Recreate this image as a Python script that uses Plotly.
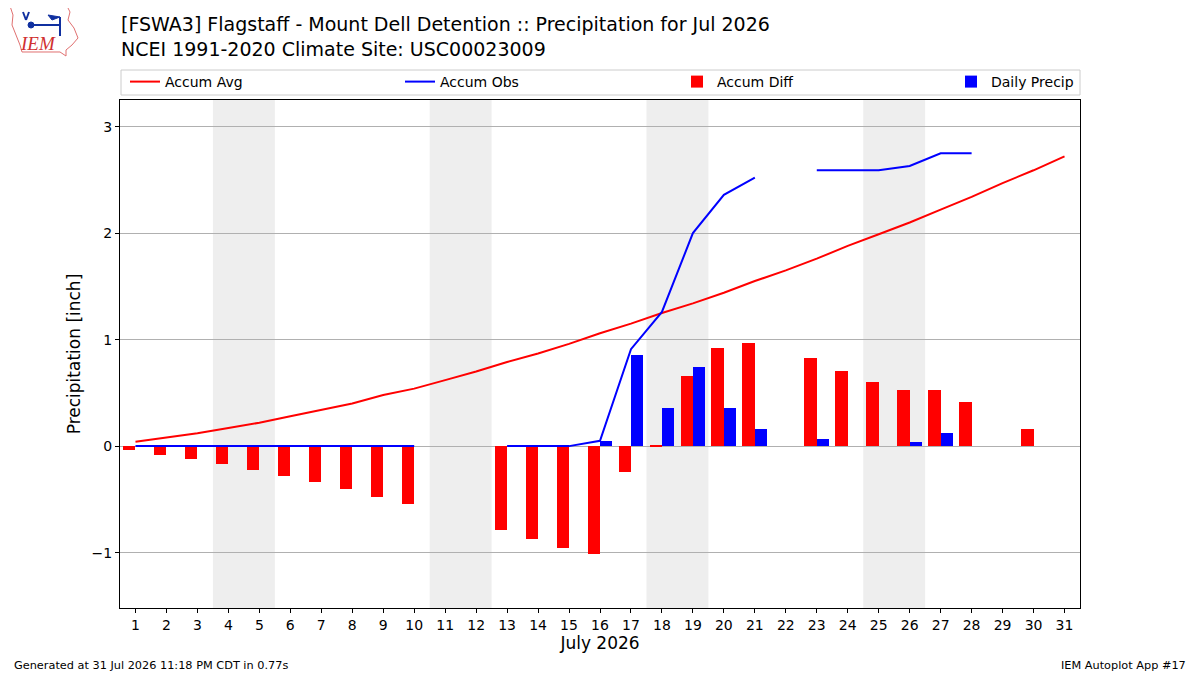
import datetime
import plotly.graph_objects as go

# July 2026 daily values
days = list(range(1, 32))
accum_avg = [0.04, 0.08, 0.12, 0.17, 0.22, 0.28, 0.34, 0.40, 0.48, 0.54,
             0.62, 0.70, 0.79, 0.87, 0.96, 1.06, 1.15, 1.25, 1.34, 1.44,
             1.55, 1.65, 1.76, 1.88, 1.99, 2.10, 2.22, 2.34, 2.47, 2.59, 2.72]
accum_obs = [0.0, 0.0, 0.0, 0.0, 0.0, 0.0, 0.0, 0.0, 0.0, 0.0,
             None, None, 0.0, 0.0, 0.0, 0.05, 0.91, 1.26, 2.00, 2.36,
             2.52, None, 2.59, 2.59, 2.59, 2.63, 2.75, 2.75, None, 2.75, None]
accum_diff = [-0.04, -0.08, -0.12, -0.17, -0.22, -0.28, -0.34, -0.40, -0.48, -0.54,
              None, None, -0.79, -0.87, -0.96, -1.01, -0.24, 0.01, 0.66, 0.92,
              0.97, None, 0.83, 0.71, 0.60, 0.53, 0.53, 0.41, None, 0.16, None]
daily_precip = [0.0, 0.0, 0.0, 0.0, 0.0, 0.0, 0.0, 0.0, 0.0, 0.0,
                None, None, 0.0, 0.0, 0.0, 0.05, 0.86, 0.36, 0.74, 0.36,
                0.16, None, 0.07, 0.0, 0.0, 0.04, 0.12, 0.0, None, 0.0, None]

title_lines = ["[FSWA3] Flagstaff - Mount Dell Detention :: Precipitation for Jul 2026",
               "NCEI 1991-2020 Climate Site: USC00023009"]
footer_left = "Generated at 31 Jul 2026 11:18 PM CDT in 0.77s"
footer_right = "IEM Autoplot App #17"

# the page body adds 8px around the figure, so draw it 8px smaller
OFF = 8
W, H = 1200 - OFF, 675 - OFF
L, T = 120 - OFF, 100 - OFF
R, B = 1200 - 1080, 675 - 608
PW, PH = W - L - R, H - T - B


def px(x):
    # window pixel -> paper x
    return (x - OFF - L) / PW


def py(y):
    # window pixel -> paper y
    return (H - B - (y - OFF)) / PH


fig = go.Figure()

fig.add_trace(go.Scatter(x=days, y=accum_avg, mode="lines", name="Accum Avg",
                         line=dict(color="red", width=2), legend="legend"))
fig.add_trace(go.Scatter(x=days, y=accum_obs, mode="lines", name="Accum Obs",
                         line=dict(color="blue", width=2), legend="legend2"))
fig.add_trace(go.Bar(x=days, y=accum_diff, name="Accum Diff", marker_color="red",
                     marker_line_width=0, width=0.4, offset=-0.4, legend="legend3"))
fig.add_trace(go.Bar(x=days, y=daily_precip, name="Daily Precip", marker_color="blue",
                     marker_line_width=0, width=0.4, offset=0.0, legend="legend4"))

# shade the weekends
for d in days:
    if datetime.date(2026, 7, d).weekday() == 5:
        fig.add_vrect(x0=d - 0.5, x1=d + 1.5, fillcolor="#eeeeee", line_width=0, layer="below")

fig.update_xaxes(range=[0.5, 31.5], tickmode="array", tickvals=days,
                 ticktext=[str(d) for d in days], ticks="outside", ticklen=4,
                 tickcolor="black", showgrid=False, zeroline=False,
                 showline=True, linecolor="black", mirror=True,
                 title=dict(text="July 2026", font=dict(size=17), standoff=2),
                 tickfont=dict(size=14))
fig.update_yaxes(range=[-1.52, 3.25], tickvals=[-1, 0, 1, 2, 3], ticks="outside",
                 ticklen=4, tickcolor="black", showgrid=True, gridcolor="#b0b0b0",
                 zeroline=False, showline=True, linecolor="black", mirror=True,
                 title=dict(text="Precipitation [inch]", font=dict(size=17), standoff=6),
                 tickfont=dict(size=14))

# legend frame spanning the plot width, four single-entry legends inside it
fig.add_shape(type="rect", xref="paper", yref="paper", x0=px(121), x1=px(1080),
              y0=py(95), y1=py(70), line=dict(color="#cccccc", width=1),
              fillcolor="rgba(255,255,255,0.8)")
leg_style = dict(orientation="h", yanchor="middle", y=py(82), xanchor="left",
                 font=dict(size=14), bgcolor="rgba(0,0,0,0)", borderwidth=0)
legend_text_x = [165, 440, 717, 991]

# rough IEM logo: state outline, station glyph, lettering
iowa = [(10, 6), (67, 6), (70, 12), (68, 20), (74, 28), (78, 38), (72, 45), (66, 50),
        (66, 56), (60, 52), (22, 52), (20, 45), (16, 35), (12, 25), (13, 15)]
path = "M " + " L ".join(f"{px(a):.5f} {py(b):.5f}" for a, b in iowa) + " Z"
fig.add_shape(type="path", path=path, xref="paper", yref="paper",
              line=dict(color="#e07070", width=1))
for (a0, b0, a1, b1) in [(31, 25, 60, 25), (60, 17, 60, 36), (23, 12, 26, 20), (26, 20, 29, 12)]:
    fig.add_shape(type="line", xref="paper", yref="paper", x0=px(a0), y0=py(b0),
                  x1=px(a1), y1=py(b1), line=dict(color="#1030a0", width=2))
fig.add_shape(type="path", xref="paper", yref="paper",
              path=f"M {px(48):.5f} {py(15):.5f} L {px(60):.5f} {py(17):.5f} "
                   f"L {px(52):.5f} {py(20):.5f} Z",
              fillcolor="#1030a0", line=dict(color="#1030a0", width=1))
fig.add_shape(type="circle", xref="paper", yref="paper", x0=px(28), x1=px(34),
              y0=py(28), y1=py(22), fillcolor="#1030a0", line=dict(color="#1030a0", width=1))

fig.update_layout(
    width=W, height=H,
    margin=dict(l=L, r=R, t=T, b=B, autoexpand=False),
    plot_bgcolor="white", paper_bgcolor="white",
    font=dict(family="DejaVu Sans", color="black", size=14),
    barmode="overlay", bargap=0,
    showlegend=True,
    legend=dict(leg_style, x=px(legend_text_x[0] - 40)),
    legend2=dict(leg_style, x=px(legend_text_x[1] - 40)),
    legend3=dict(leg_style, x=px(legend_text_x[2] - 40)),
    legend4=dict(leg_style, x=px(legend_text_x[3] - 40)),
)

fig.add_annotation(text="<br>".join(title_lines), xref="paper", yref="paper",
                   x=px(119), y=py(11), xanchor="left", yanchor="top", align="left",
                   showarrow=False, font=dict(size=19))
fig.add_annotation(text="<i>IEM</i>", xref="paper", yref="paper", x=px(38), y=py(44),
                   xanchor="center", yanchor="middle", showarrow=False,
                   font=dict(family="Liberation Serif", size=19, color="#d03030"))
fig.add_annotation(text=footer_left, xref="paper", yref="paper", x=px(12), y=py(665),
                   xanchor="left", yanchor="middle", showarrow=False, font=dict(size=11.3))
fig.add_annotation(text=footer_right, xref="paper", yref="paper", x=px(1188), y=py(665),
                   xanchor="right", yanchor="middle", showarrow=False, font=dict(size=11.3))

fig.write_html("out.html")
